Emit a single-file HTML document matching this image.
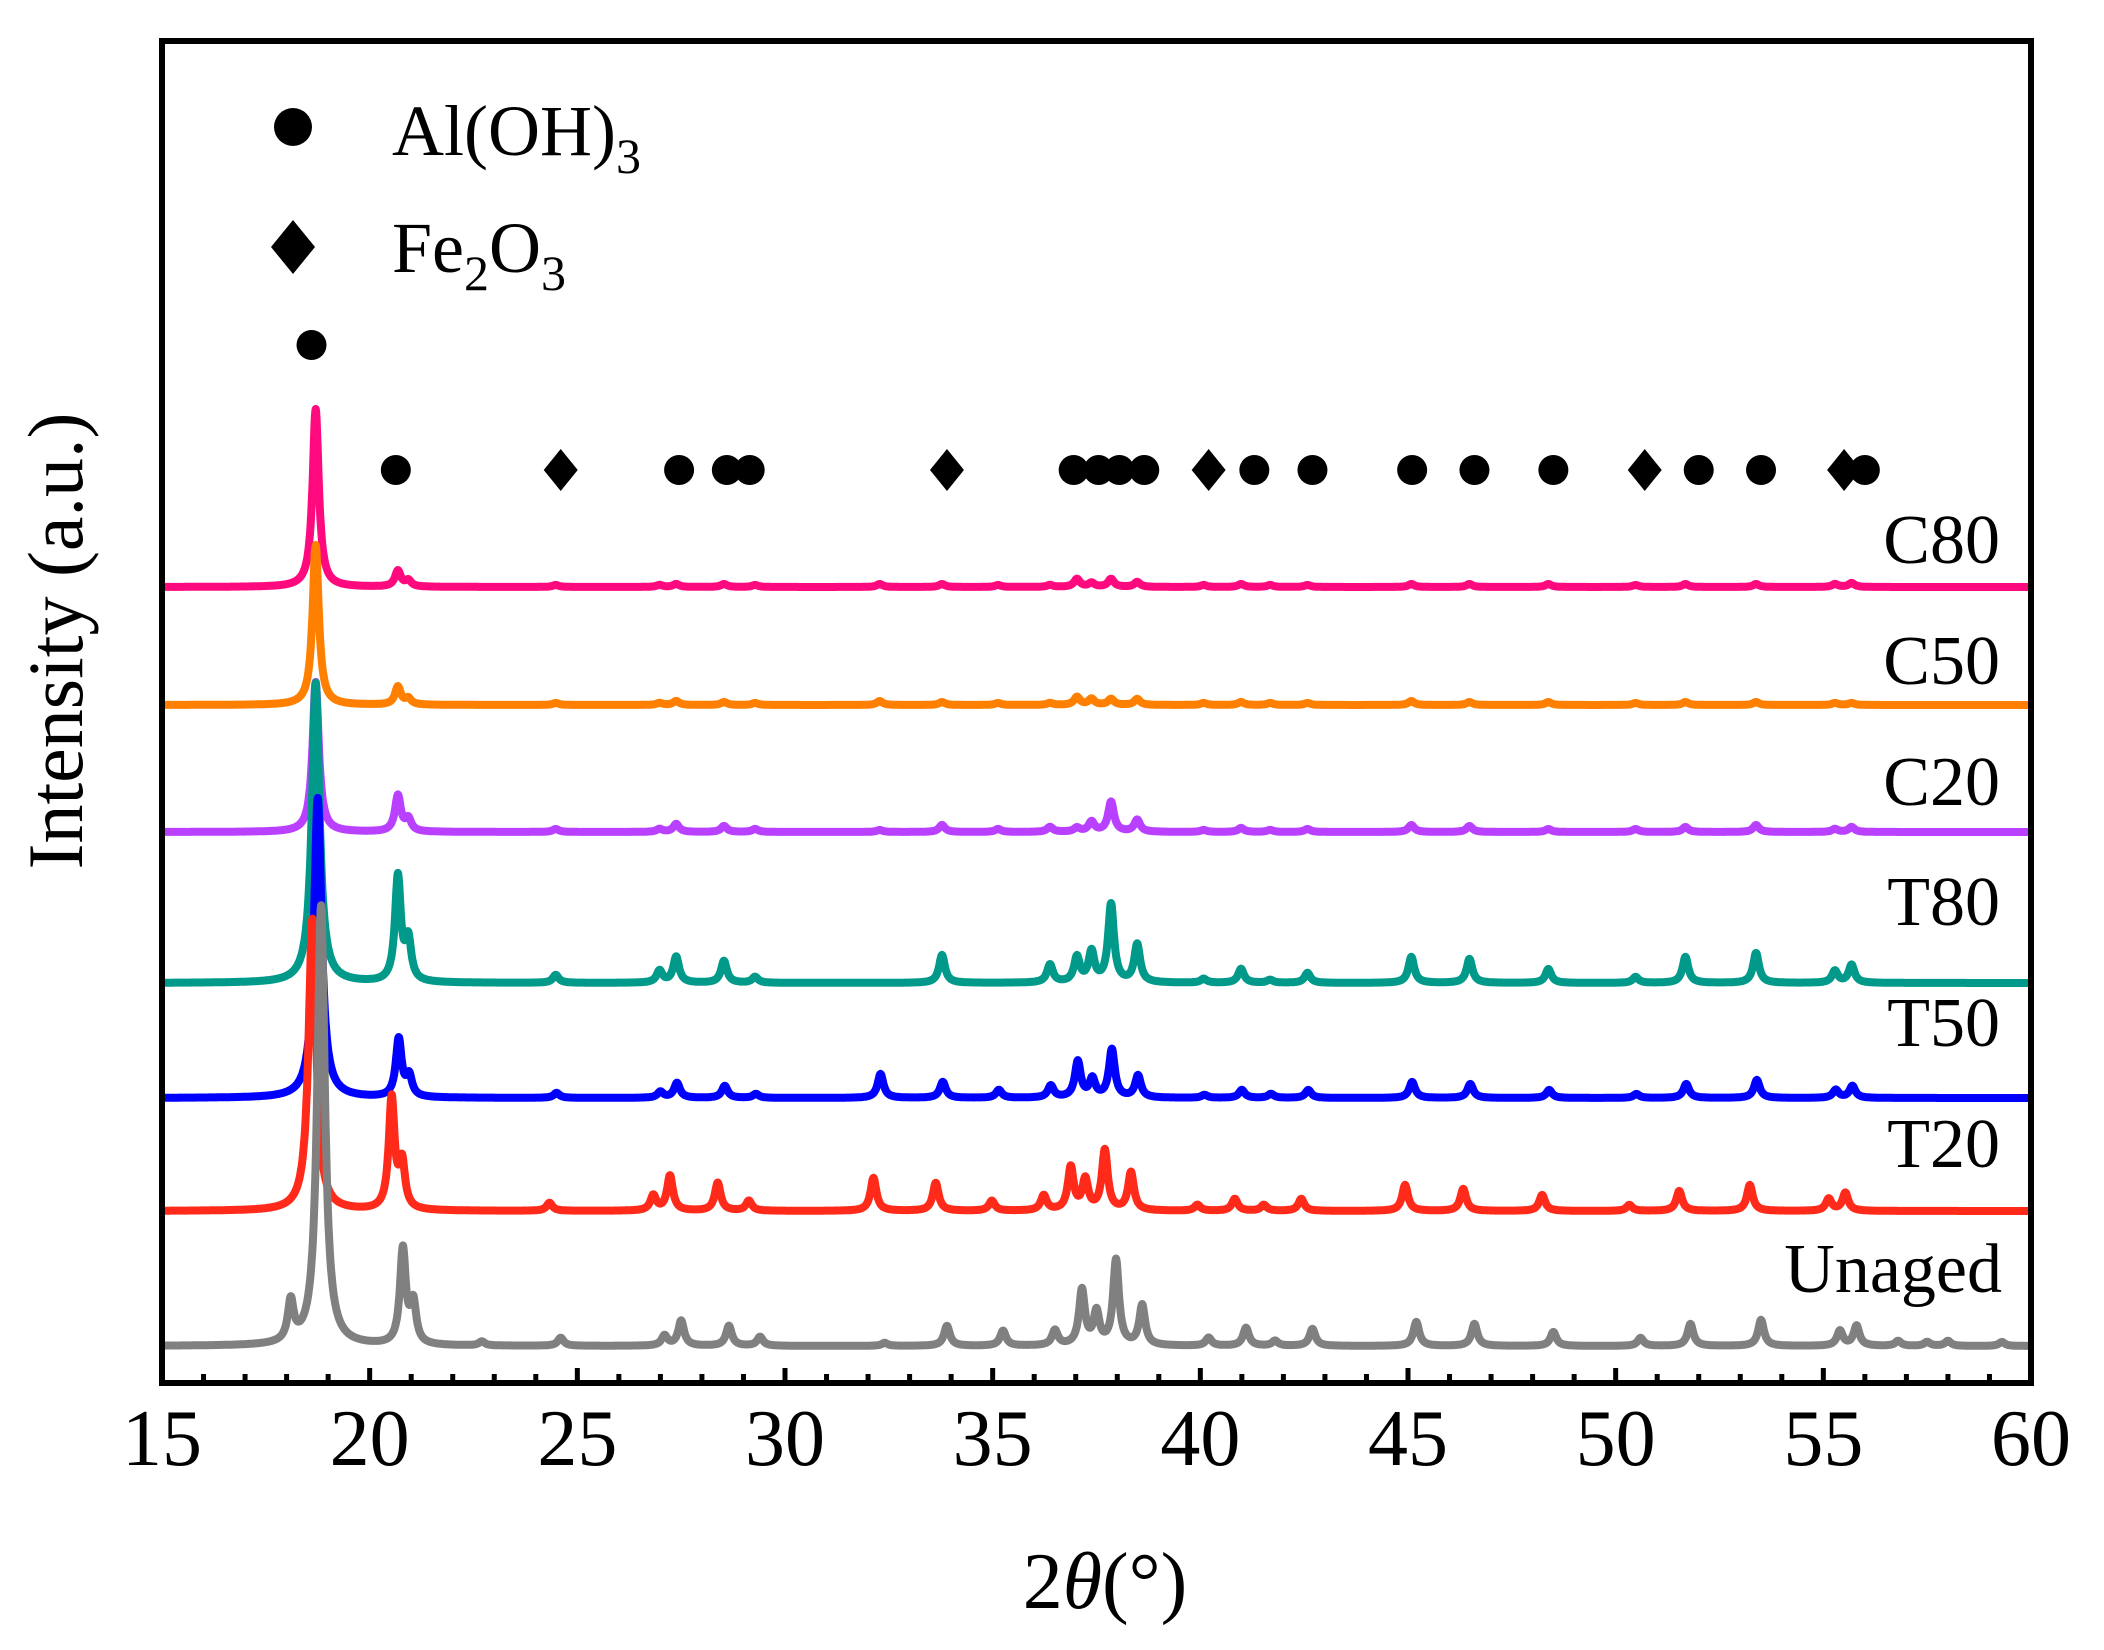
<!DOCTYPE html>
<html><head><meta charset="utf-8"><style>
html,body{margin:0;padding:0;background:#fff}
svg{display:block}
text{font-family:"Liberation Serif","Times New Roman",serif;fill:#000}
</style></head><body>
<svg id="chart" width="2104" height="1650" viewBox="0 0 2104 1650" xmlns="http://www.w3.org/2000/svg">
<g id="series-layer"></g>
<g id="markers-layer"></g>
<rect x="162" y="41" width="1869" height="1342" fill="none" stroke="#000" stroke-width="6"/>
<g id="ticks-layer"></g>
<text x="1105" y="1608" font-size="80" text-anchor="middle">2<tspan font-style="italic">θ</tspan>(°)</text>
<text transform="translate(82,641) rotate(-90)" font-size="78" text-anchor="middle">Intensity (a.u.)</text>
<g>
<circle cx="293" cy="127" r="19" fill="#000"/>
<text x="392" y="155" font-size="72">Al(OH)<tspan font-size="50" dy="18">3</tspan></text>
<polygon points="293,220 315,247 293,274 271,247" fill="#000"/>
<text x="392" y="272" font-size="72">Fe<tspan font-size="50" dy="18">2</tspan><tspan dy="-18">O</tspan><tspan font-size="50" dy="18">3</tspan></text>
</g>
<g id="labels-layer"></g>
</svg>
<script>
const xTicks = [15,20,25,30,35,40,45,50,55,60];
const seriesNames = ["C80","C50","C20","T80","T50","T20","Unaged"];
const seriesColors = ["#ff0a7e","#ff8000","#b940ff","#00998a","#0000ff","#ff2a1a","#808080"];
const seriesShift = [-0.12,-0.12,-0.12,-0.12,-0.1,-0.27,0];
const mainPos = [18.7,18.7,18.7,18.7,18.75,18.62,18.83];
const mainHeight = [178,160,150,300,300,292,440];
const peakPos = [18.1,20.8,21.05,22.7,24.6,27.1,27.5,28.65,29.4,32.4,33.9,35.25,36.5,37.15,37.5,37.97,38.6,40.2,41.1,41.8,42.7,45.2,46.6,48.5,50.6,51.8,53.5,55.4,55.8,56.8,57.5,58.0,59.3];
const hC80   = [0,16,6,0,2,2,3,3,2,3,3,2,2,8,4,8,5,2,3,2,2,3,3,3,2,3,3,3,4,0,0,0,0];
const hC50   = [0,18,6,0,2,2,4,3,2,4,3,2,2,8,6,6,6,2,3,2,2,4,3,3,2,3,3,2,2,0,0,0,0];
const hC20   = [0,36,12,0,3,3,8,6,3,2,7,3,5,4,10,30,12,2,4,2,3,7,6,3,3,5,7,3,5,0,0,0,0];
const hT80   = [0,105,40,0,8,12,26,22,6,0,28,0,18,25,30,78,38,4,14,3,10,26,24,14,6,26,30,12,18,0,0,0,0];
const hT50   = [0,58,20,0,5,6,15,12,4,24,16,8,12,36,18,48,22,3,8,4,8,16,14,8,4,14,18,8,12,0,0,0,0];
const hT20   = [0,111,45,0,8,15,35,28,10,33,28,10,15,43,30,60,38,6,12,6,12,26,22,16,6,20,26,12,18,0,0,0,0];
const hUnaged= [40,95,40,4,8,10,25,20,9,3,20,15,15,55,32,85,40,8,18,5,17,24,22,14,8,22,26,15,20,5,4,5,4];
const baselines = [587,705,832,983,1098,1211,1346];
const seriesHeights = [hC80,hC50,hC20,hT80,hT50,hT20,hUnaged];
const circlePos = [20.63,27.45,28.6,29.15,36.95,37.55,38.05,38.65,41.3,42.7,45.1,46.6,48.5,52.0,53.5,56.0];
const diamondPos = [24.6,33.9,40.2,50.7,55.5];
const mainCirclePos = [18.6];
const labelBaselines = [563,684,805,925,1046,1167,1292];

const X0=162, X1=2031, XMIN=15, XMAX=60;
const xs = d => X0 + (d-XMIN)/(XMAX-XMIN)*(X1-X0);
const NS="http://www.w3.org/2000/svg";
const sl=document.getElementById('series-layer');
const ml=document.getElementById('markers-layer');
const tl=document.getElementById('ticks-layer');
const ll=document.getElementById('labels-layer');

function lor(x,c,w){const t=(x-c)/w;return 1/(1+t*t);}
for(let s=0;s<seriesNames.length;s++){
  let d="";
  for(let i=0;i<=4500;i++){
    const x=XMIN+i*0.01;
    let v=mainHeight[s]*lor(x,mainPos[s],s>=3?0.11:0.09);
    const hs=seriesHeights[s];
    for(let k=0;k<peakPos.length;k++){ if(hs[k]>0) v+=hs[k]*lor(x,peakPos[k]+seriesShift[s],0.085); }
    d+=(i?"L":"M")+xs(x).toFixed(1)+" "+(baselines[s]-v).toFixed(1);
  }
  const p=document.createElementNS(NS,'path');
  
  
  p.setAttribute('d',d);p.setAttribute('fill','none');p.setAttribute('stroke',seriesColors[s]);
  p.setAttribute('stroke-width','8');p.setAttribute('stroke-linejoin','round');
  sl.appendChild(p);
  const t=document.createElementNS(NS,'text');
  
  
  t.setAttribute('x', seriesNames[s]==="Unaged"?2002:2000);t.setAttribute('y',labelBaselines[s]);
  t.setAttribute('font-size','70');t.setAttribute('text-anchor','end');
  t.textContent=seriesNames[s];ll.appendChild(t);
}
for(const c of circlePos){
  const e=document.createElementNS(NS,'circle');
  
  
  e.setAttribute('cx',xs(c));e.setAttribute('cy',470);e.setAttribute('r',15);ml.appendChild(e);
}
for(const c of mainCirclePos){
  const e=document.createElementNS(NS,'circle');
  
  
  e.setAttribute('cx',xs(c));e.setAttribute('cy',345);e.setAttribute('r',15);ml.appendChild(e);
}
for(const c of diamondPos){
  const e=document.createElementNS(NS,'polygon');
  
  
  const x=xs(c);
  e.setAttribute('points',`${x},449 ${x+17},470 ${x},491 ${x-17},470`);ml.appendChild(e);
}
for(let d=15;d<=60;d++){
  const major = xTicks.includes(d);
  const l=document.createElementNS(NS,'line');
  
  
  l.setAttribute('x1',xs(d));l.setAttribute('x2',xs(d));
  l.setAttribute('y1',1383);l.setAttribute('y2',major?1368:1374);
  l.setAttribute('stroke','#000');l.setAttribute('stroke-width','5');tl.appendChild(l);
}
for(const v of xTicks){
  const t=document.createElementNS(NS,'text');
  
  
  t.setAttribute('x',xs(v));t.setAttribute('y',1465);t.setAttribute('font-size','80');
  t.setAttribute('text-anchor','middle');t.textContent=v;tl.appendChild(t);
}
</script>
</body></html>
